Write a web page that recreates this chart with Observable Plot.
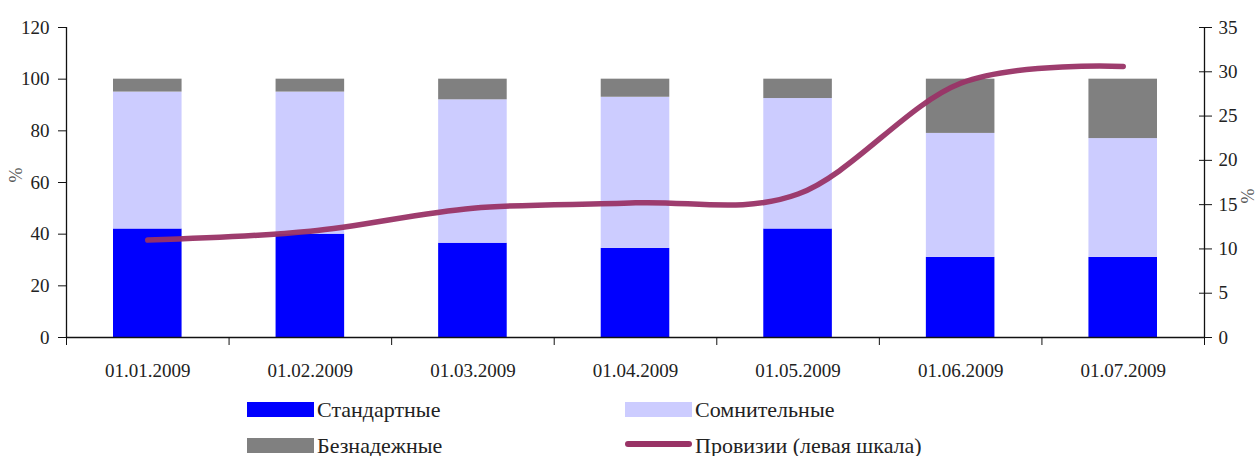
<!DOCTYPE html>
<html>
<head>
<meta charset="utf-8">
<script src="https://cdn.jsdelivr.net/npm/d3@7"></script>
<script src="https://cdn.jsdelivr.net/npm/@observablehq/plot@0.6"></script>
<style>
  html, body { margin: 0; padding: 0; background: #fff; }
  #wrap { position: relative; width: 1259px; height: 456px; font-family: "Liberation Serif", "Times New Roman", Tinos, "DejaVu Serif", serif; color: #222; }
  .lg { position: absolute; font-size: 22px; line-height: 22px; white-space: nowrap; }
  .sw { position: absolute; }
</style>
</head>
<body>
<div id="wrap"></div>
<script>
// ---- data ----
const dates = ["01.01.2009", "01.02.2009", "01.03.2009", "01.04.2009", "01.05.2009", "01.06.2009", "01.07.2009"];
const standard = [42, 40, 36.5, 34.5, 42, 31, 31];
const doubtful = [53, 55, 55.5, 58.5, 50.5, 48, 46];
const hopeless = [5, 5, 8, 7, 7.5, 21, 23];
const provisions = [11.0, 12.0, 14.6, 15.2, 16.2, 28.7, 30.6];
const seriesNames = ["Стандартные", "Сомнительные", "Безнадежные"];
const lineName = "Провизии (левая шкала)";
const leftTicks = [0, 20, 40, 60, 80, 100, 120];
const rightTicks = [0, 5, 10, 15, 20, 25, 30, 35];
const colors = ["#0000FF", "#CCCCFF", "#808080"];
const lineColor = "#993366";

// ---- build table ----
const seriesValues = [standard, doubtful, hopeless];
const rows = [];
dates.forEach((d, i) => {
  seriesNames.forEach((s, k) => rows.push({i, date: d, series: s, value: seriesValues[k][i]}));
});
const k = 120 / 35; // right axis -> left scale
const lineData = dates.map((d, i) => ({i, v: provisions[i]}));

const font = "'Liberation Serif', 'Times New Roman', Tinos, 'DejaVu Serif', serif";

const chart = Plot.plot({
  width: 1259,
  height: 395,
  marginLeft: 66,
  marginRight: 55,
  marginTop: 27,
  marginBottom: 58,
  style: {fontFamily: font, fontSize: "19px", color: "#222", background: "#fff"},
  x: {domain: [0, dates.length], axis: null},
  y: {domain: [0, 120], axis: null},
  color: {domain: seriesNames, range: colors},
  marks: [
    Plot.rect(rows, Plot.stackY({
      x1: "i", x2: d => d.i + 1, y: "value", fill: "series",
      insetLeft: 47, insetRight: 47
    })),
    Plot.line(lineData, {
      x: d => d.i + 0.5, y: d => d.v * k,
      curve: "cardinal", tension: 0, stroke: lineColor, strokeWidth: 5.5, strokeOpacity: 0.95,
      strokeLinecap: "round", strokeLinejoin: "round"
    }),
    // axis lines
    Plot.ruleY([0], {stroke: "#111", strokeWidth: 1.3}),
    Plot.ruleX([0, dates.length], {stroke: "#111", strokeWidth: 1.3}),
    // left axis
    Plot.axisY(leftTicks, {anchor: "left", tickSize: 8, tickPadding: 9, label: null, stroke: "#111", fill: "#222"}),
    // right axis (cross ticks)
    Plot.axisY(rightTicks.map(v => v * k), {
      anchor: "right", tickSize: 13, dx: -6, tickPadding: 7, label: null, stroke: "#111", fill: "#222",
      tickFormat: d => String(Math.round(d / k))
    }),
    // bottom axis: category labels centered, ticks between categories
    Plot.axisX(d3.range(dates.length).map(i => i + 0.5), {
      anchor: "bottom", tickSize: 0, tickPadding: 26, label: null, fill: "#222",
      tickFormat: d => dates[Math.floor(d)]
    }),
    Plot.axisX(d3.range(dates.length + 1), {
      anchor: "bottom", tickSize: 8, tickFormat: () => "", label: null, stroke: "#111"
    }),
    // axis titles
    Plot.text(["%"], {frameAnchor: "left", dx: -50, rotate: -90, fill: "#555", fontSize: 18}),
    Plot.text(["%"], {frameAnchor: "right", dx: 44, dy: 6, rotate: -90, fill: "#555", fontSize: 18})
  ]
});

const wrap = document.getElementById("wrap");
wrap.appendChild(chart);

// ---- legend (HTML below the SVG) ----
const legendItems = [
  {name: seriesNames[0], type: "rect", color: colors[0], left: 247, top: 402},
  {name: seriesNames[1], type: "rect", color: colors[1], left: 625, top: 402},
  {name: seriesNames[2], type: "rect", color: colors[2], left: 247, top: 438},
  {name: lineName, type: "line", color: lineColor, left: 625, top: 438}
];
legendItems.forEach(it => {
  const sw = document.createElement("div");
  sw.className = "sw";
  sw.style.left = it.left + "px";
  sw.style.width = "67px";
  sw.style.background = it.color;
  if (it.type === "rect") {
    sw.style.top = it.top + "px";
    sw.style.height = "15px";
  } else {
    sw.style.top = (it.top + 3) + "px";
    sw.style.height = "6px";
    sw.style.borderRadius = "3px";
  }
  wrap.appendChild(sw);
  const t = document.createElement("div");
  t.className = "lg";
  t.style.left = (it.left + 70) + "px";
  t.style.top = (it.top - 3) + "px";
  t.textContent = it.name;
  wrap.appendChild(t);
});
</script>
</body>
</html>
